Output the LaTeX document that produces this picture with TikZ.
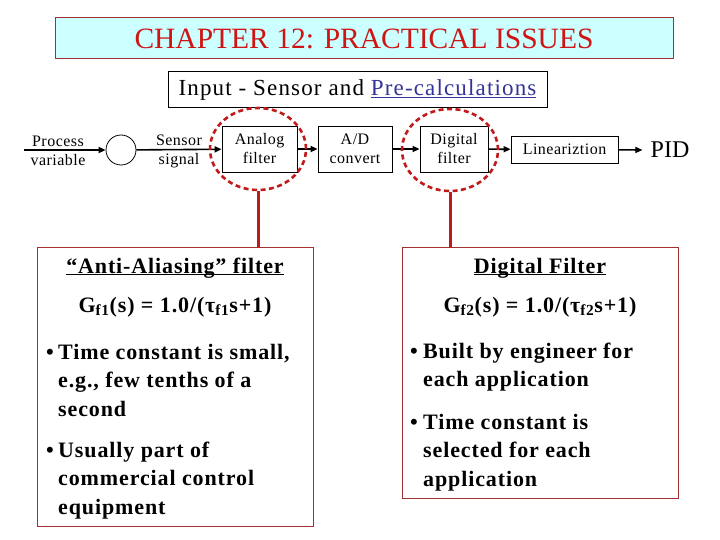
\documentclass[tikz,border=0pt]{standalone}
\usepackage{fontspec}
\setmainfont{Liberation Serif}
\usetikzlibrary{shapes.geometric,arrows.meta}

\definecolor{titlered}{HTML}{D01414}
\definecolor{framered}{HTML}{A33030}
\definecolor{linkred}{HTML}{C01A1A}
\definecolor{titlecyan}{HTML}{CCFFFF}
\definecolor{linkblue}{HTML}{333399}

\newcommand{\undertext}[1]{\underline{\smash{#1}}}

\tikzset{
  smalltext/.style={font=\fontsize{16}{19}\selectfont\addfontfeature{LetterSpace=3}, align=center, inner sep=0pt},
  flowbox/.style={smalltext, draw, line width=0.8pt},
  flowarrow/.style={-{Triangle[length=7pt,width=6pt]}, line width=1.6pt},
  filterring/.style={draw=linkred, ellipse, dash pattern=on 5pt off 3.5pt, line width=2.6pt, minimum width=96pt, minimum height=82pt},
  infobox/.style={draw=framered, line width=1pt, minimum width=276pt, inner sep=0pt},
  infotext/.style={font=\fontsize{22}{28.5}\selectfont\bfseries\addfontfeature{LetterSpace=4}, inner sep=0pt},
  bullettext/.style={infotext, anchor=base west},
}

\begin{document}
\begin{tikzpicture}[x=1pt, y=-1pt]
  \useasboundingbox (0,0) rectangle (720,540);

  % headings
  \node[draw=framered, fill=titlecyan, line width=1pt, minimum width=618pt, minimum height=41pt,
        font=\fontsize{29.5}{31}\selectfont, text=titlered] (title) at (364,38.5) {CHAPTER 12: PRACTICAL ISSUES};
  \node[draw, line width=1pt, minimum width=379pt, minimum height=36pt,
        font=\fontsize{23}{25}\selectfont\addfontfeature{LetterSpace=5}] (input) at (357.5,90)
        {Input - Sensor and \textcolor{linkblue}{\undertext{Pre-calculations}}};

  % signal chain
  \coordinate (pvstart) at (24,150);
  \node[smalltext] (pvlabel) at (58,151) {Process\\variable};
  \node[draw, circle, line width=0.8pt, minimum size=30pt, inner sep=0pt] (sensor) at (121,150) {};
  \node[smalltext] (siglabel) at (179,151) {Sensor\\signal};
  \node[flowbox, minimum width=75pt, minimum height=46pt] (analog) at (259.5,149) {Analog\\filter};
  \node[flowbox, minimum width=74pt, minimum height=46pt] (adconv) at (355,149) {A/D\\convert};
  \node[flowbox, minimum width=68pt, minimum height=46pt] (digital) at (454,149) {Digital\\filter};
  \node[flowbox, minimum width=107pt, minimum height=27pt] (linear) at (564.5,149.5) {Lineariztion};
  \node[font=\fontsize{24}{26}\selectfont, inner sep=0pt] (pid) at (670,150) {PID};

  \draw[flowarrow] (pvstart) -- (sensor);
  \draw[flowarrow] (sensor) -- (analog);
  \draw[flowarrow] (analog) -- (adconv);
  \draw[flowarrow] (adconv) -- (digital);
  \draw[flowarrow] (digital) -- (linear);
  \draw[flowarrow] (linear) -- ([xshift=-8pt]pid.west);

  % filters picked out
  \node[filterring] (aaring) at (258,149) {};
  \node[filterring] (dfring) at (450,150) {};

  % explanation boxes
  \node[infobox, minimum height=279pt] (aabox) at (175,386.5) {};
  \node[infobox, minimum height=251pt] (dfbox) at (540,372.5) {};
  \draw[linkred, line width=3pt] (aaring.south) -- (aaring.south |- aabox.north);
  \draw[linkred, line width=3pt] (dfring.south) -- (dfring.south |- dfbox.north);

  \node[infotext, anchor=base] (aahead) at (175,273) {\undertext{“Anti-Aliasing” filter}};
  \node[infotext, anchor=base] (aaeq) at (175,312) {G\textsubscript{f1}(s) = 1.0/(τ\textsubscript{f1}s+1)};
  \node[bullettext] (aaone) at (46,359) {\parbox[t]{262pt}{\hangindent=12pt\hangafter=1
    \makebox[12pt][l]{•}Time constant is small,\\ e.g., few tenths of a\\ second}};
  \node[bullettext] (aatwo) at (46,457) {\parbox[t]{262pt}{\hangindent=12pt\hangafter=1
    \makebox[12pt][l]{•}Usually part of\\ commercial control\\ equipment}};

  \node[infotext, anchor=base] (dfhead) at (540,273) {\undertext{Digital Filter}};
  \node[infotext, anchor=base] (dfeq) at (540,312) {G\textsubscript{f2}(s) = 1.0/(τ\textsubscript{f2}s+1)};
  \node[bullettext] (dfone) at (410,358) {\parbox[t]{262pt}{\hangindent=13pt\hangafter=1
    \makebox[13pt][l]{•}Built by engineer for\\ each application}};
  \node[bullettext] (dftwo) at (410,429) {\parbox[t]{262pt}{\hangindent=13pt\hangafter=1
    \makebox[13pt][l]{•}Time constant is\\ selected for each\\ application}};
\end{tikzpicture}
\end{document}
